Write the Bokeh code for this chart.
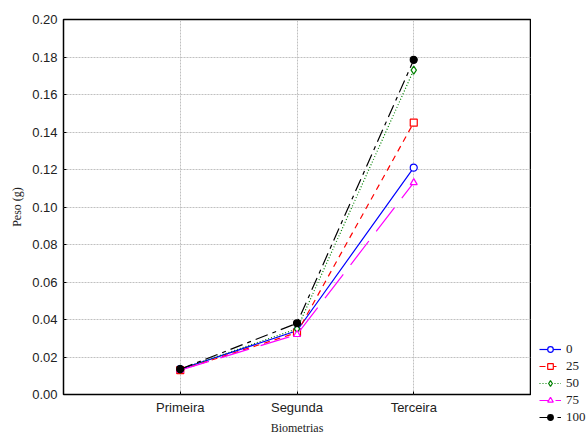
from bokeh.plotting import figure
from bokeh.models import FixedTicker, Legend, LegendItem, Range1d
from bokeh.layouts import row, column
from bokeh.embed import file_html
from bokeh.resources import INLINE

categories = ["Primeira", "Segunda", "Terceira"]
series_names = ["0", "25", "50", "75", "100"]
s0 = [0.0135, 0.0340, 0.1210]
s25 = [0.0130, 0.0330, 0.1450]
s50 = [0.0135, 0.0350, 0.1730]
s75 = [0.0130, 0.0320, 0.1130]
s100 = [0.0135, 0.0380, 0.1785]
y_ticks = [0.00, 0.02, 0.04, 0.06, 0.08, 0.10, 0.12, 0.14, 0.16, 0.18, 0.20]

xs = [i + 1 for i in range(len(categories))]

p = figure(width=531, height=437, output_backend="svg", toolbar_location=None,
           x_range=Range1d(0, 4), y_range=Range1d(0, 0.2),
           min_border_left=63, min_border_right=1, min_border_top=19, min_border_bottom=0)
p.background_fill_color = "white"
p.border_fill_color = "white"
p.outline_line_color = "black"
p.outline_line_width = 1.5

p.xaxis.ticker = FixedTicker(ticks=xs)
p.xaxis.major_label_overrides = {x: c for x, c in zip(xs, categories)}
p.yaxis.ticker = FixedTicker(ticks=y_ticks)
p.yaxis.major_label_overrides = {t: f"{t:.2f}" for t in y_ticks}
for ax in (p.xaxis[0], p.yaxis[0]):
    ax.axis_line_color = None
    ax.major_tick_in = 3
    ax.major_tick_out = 0
    ax.minor_tick_line_color = None
    ax.major_tick_line_color = "black"
    ax.major_label_text_font = "Liberation Sans"
    ax.major_label_text_font_size = "13px"
    ax.major_label_text_color = "#222222"
    ax.axis_label_text_font = "Liberation Serif"
    ax.axis_label_text_font_style = "normal"
    ax.axis_label_text_color = "#222222"
p.xaxis.axis_label = "Biometrias"
p.xaxis.axis_label_text_font_size = "12px"
p.xaxis.axis_label_standoff = 3
p.xaxis.major_label_standoff = 5
p.yaxis.axis_label = "Peso (g)"
p.yaxis.axis_label_text_font_size = "12px"
p.yaxis.axis_label_standoff = 5
p.yaxis.major_label_standoff = 6

p.grid.grid_line_color = "#c0c0c0"
p.grid.grid_line_dash = "2 1"
p.grid.grid_line_width = 1

styles = [
    (s0, "blue", "solid", "circle", "white"),
    (s25, "red", "6 5", "square", "white"),
    (s50, "green", "1 2", "diamond", "white"),
    (s75, "magenta", "30 12", "triangle", "white"),
    (s100, "black", "13 5 4 5", "circle", "black"),
]

# legend panel (separate narrow figure to the right of the plot frame)
lg = figure(width=56, height=437, output_backend="svg", toolbar_location=None,
            x_range=Range1d(0, 4), y_range=Range1d(0, 0.2),
            x_axis_location=None, y_axis_location=None, title=None,
            min_border_left=0, min_border_right=0, min_border_top=0, min_border_bottom=0)
lg.grid.visible = False
lg.outline_line_color = None
lg.background_fill_color = "white"
lg.border_fill_color = "white"

items = []
for name, (vals, col, dash, mk, fill) in zip(series_names, styles):
    sz = 7 if mk != "diamond" else 8
    p.line(xs, vals, line_color=col, line_dash=dash, line_width=1.2)
    p.scatter(xs, vals, marker=mk, size=sz, line_color=col, fill_color=fill, line_width=1.2)
    r1 = lg.line(xs, vals, line_color=col, line_dash=dash if dash != "30 12" else "12 4",
                 line_width=1.2, visible=False)
    r2 = lg.scatter(xs, vals, marker=mk, size=sz, line_color=col, fill_color=fill,
                    line_width=1.2, visible=False)
    items.append(LegendItem(label=name, renderers=[r1, r2]))

legend = Legend(items=items, location=(8, 12), orientation="vertical",
                background_fill_alpha=0, border_line_color=None,
                label_text_font="Liberation Serif", label_text_font_size="13px",
                label_text_color="#222222", label_height=14,
                glyph_width=22, glyph_height=14, spacing=1, padding=2,
                label_standoff=5, margin=0)
lg.add_layout(legend, "center")

layout = row(p, column(lg, spacing=0), spacing=0)
open("out.html", "w").write(file_html(layout, INLINE))
